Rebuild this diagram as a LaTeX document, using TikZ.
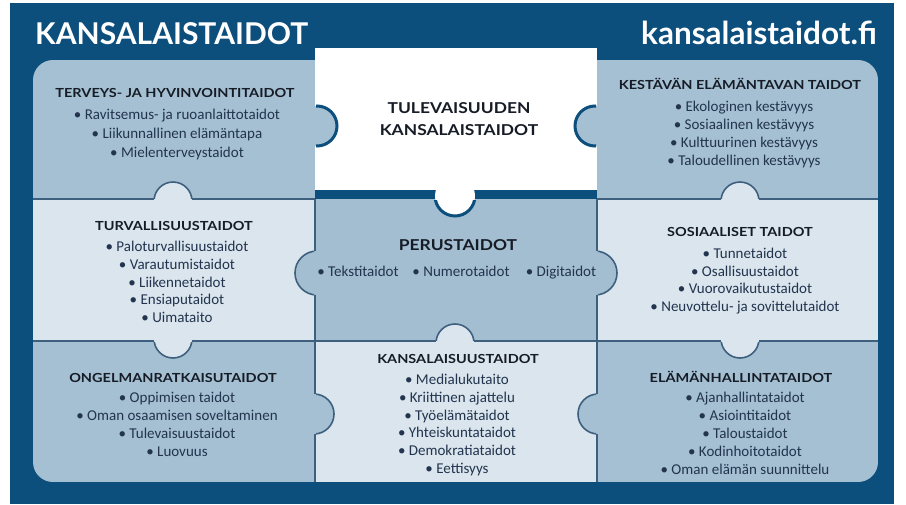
\documentclass[tikz,border=0pt]{standalone}
\usepackage{fontspec}
\setmainfont{Carlito}
\newfontfamily\headfont[FakeStretch=1.16]{Lato}
\newfontfamily\titlefont{Lato}
\definecolor{bg}{RGB}{12,78,124}
\definecolor{medcell}{RGB}{166,192,211}
\definecolor{lightcell}{RGB}{218,229,237}
\definecolor{midcell}{RGB}{164,190,209}
\definecolor{sepline}{RGB}{62,96,126}
\definecolor{headc}{RGB}{22,28,38}
\definecolor{itemc}{RGB}{34,52,78}
\newcommand\pzknob[5]{%
  \fill[#3] #1 circle[radius=#2];
  \begin{scope}\clip #5; \draw[#4] #1 circle[radius=#2]; \end{scope}}
\tikzset{
  item/.style={font=\fontsize{15}{16}\selectfont, text=itemc, inner sep=0pt, text height=7pt, text depth=0pt},
  cellhead/.style={font=\headfont\bfseries\fontsize{12.5}{14}\selectfont, text=headc, inner sep=0pt, text height=9pt, text depth=0pt},
  bighead/.style={cellhead, font=\headfont\bfseries\fontsize{15}{16}\selectfont, text height=11pt},
  knobdark/.style={draw=bg, line width=3pt},
  knobline/.style={draw=sepline, line width=1.6pt},
  sep/.style={draw=sepline, line width=1.6pt}
}
\begin{document}
\begin{tikzpicture}[x=1pt,y=-1pt]
\useasboundingbox (0,0) rectangle (906,504);
\fill[white] (0,0) rectangle (906,504);
\fill[bg] (10,3) rectangle (894,504);
% titles
\node[font=\titlefont\bfseries\fontsize{30}{31}\selectfont, text=white, anchor=base west, inner sep=0pt] (title) at (35,44) {KANSALAISTAIDOT};
\node[font=\titlefont\bfseries\fontsize{31.5}{32}\selectfont, text=white, anchor=base east, inner sep=0pt] (url) at (877,44) {kansalaistaidot.fi};
% cells
\begin{scope}
\clip[rounded corners=20pt] (33,60) rectangle (878,482);
\fill[medcell] (33,60) rectangle (315,199);
\fill[medcell] (597,60) rectangle (878,199);
\fill[lightcell] (33,199) rectangle (315,341);
\fill[midcell] (315,199) rectangle (597,341);
\fill[lightcell] (597,199) rectangle (878,341);
\fill[medcell] (33,341) rectangle (315,482);
\fill[lightcell] (315,341) rectangle (597,482);
\fill[medcell] (597,341) rectangle (878,482);
\draw[sep] (33,199) -- (315,199);
\draw[sep] (597,199) -- (878,199);
\draw[sep] (33,341) -- (878,341);
\draw[sep] (315,199) -- (315,482);
\draw[sep] (597,199) -- (597,482);
\end{scope}
% white piece
\fill[white] (315,48) rectangle (597,190);
\fill[bg] (315,190) rectangle (597,199);
% knobs
\pzknob{(317,126)}{20}{medcell}{knobdark}{(316,0) rectangle (906,504)}
\pzknob{(595,126)}{20}{medcell}{knobdark}{(0,0) rectangle (596,504)}
\pzknob{(455,196)}{20}{white}{knobdark}{(0,200) rectangle (906,504)}
\pzknob{(173,201)}{19}{lightcell}{knobline}{(0,0) rectangle (906,198)}
\pzknob{(740,201)}{19}{lightcell}{knobline}{(0,0) rectangle (906,198)}
\pzknob{(317,273)}{22}{midcell}{knobline}{(0,0) rectangle (314,504)}
\pzknob{(595,273)}{22}{midcell}{knobline}{(598,0) rectangle (906,504)}
\pzknob{(173,339)}{19}{lightcell}{knobline}{(0,342) rectangle (906,504)}
\pzknob{(740,339)}{19}{lightcell}{knobline}{(0,342) rectangle (906,504)}
\pzknob{(455,343)}{19}{lightcell}{knobline}{(0,0) rectangle (906,340)}
\pzknob{(314,414)}{20}{medcell}{knobline}{(316,0) rectangle (906,504)}
\pzknob{(598,414)}{20}{medcell}{knobline}{(0,0) rectangle (596,504)}
% headings
\node[cellhead] (h1) at (175,93) {TERVEYS- JA HYVINVOINTITAIDOT};
\node[cellhead] (h3) at (740,85) {KESTÄVÄN ELÄMÄNTAVAN TAIDOT};
\node[cellhead] (h4) at (174,226) {TURVALLISUUSTAIDOT};
\node[bighead] (h5) at (458,245) {PERUSTAIDOT};
\node[cellhead] (h6) at (740,232) {SOSIAALISET TAIDOT};
\node[cellhead] (h7) at (173,378) {ONGELMANRATKAISUTAIDOT};
\node[cellhead] (h8) at (458,359) {KANSALAISUUSTAIDOT};
\node[cellhead] (h9) at (741,378) {ELÄMÄNHALLINTATAIDOT};
\node[bighead] (h2a) at (459,108) {TULEVAISUUDEN};
\node[bighead] (h2b) at (459,130) {KANSALAISTAIDOT};
% items
\foreach \t [count=\i] in {Ravitsemus- ja ruoanlaittotaidot, Liikunnallinen elämäntapa, Mielenterveystaidot}
  \node[item] (a\i) at (177,{116+(\i-1)*19}) {• \t};
\foreach \t [count=\i] in {Ekologinen kestävyys, Sosiaalinen kestävyys, Kulttuurinen kestävyys, Taloudellinen kestävyys}
  \node[item] (b\i) at (744,{108+(\i-1)*18}) {• \t};
\foreach \t [count=\i] in {Paloturvallisuustaidot, Varautumistaidot, Liikennetaidot, Ensiaputaidot, Uimataito}
  \node[item] (c\i) at (177,{248+(\i-1)*17.8}) {• \t};
\node[item] (d1) at (358,273) {• Tekstitaidot};
\node[item] (d2) at (461,273) {• Numerotaidot};
\node[item] (d3) at (561,273) {• Digitaidot};
\foreach \t [count=\i] in {Tunnetaidot, Osallisuustaidot, Vuorovaikutustaidot, Neuvottelu- ja sovittelutaidot}
  \node[item] (e\i) at (745,{255+(\i-1)*17.7}) {• \t};
\foreach \t [count=\i] in {Oppimisen taidot, Oman osaamisen soveltaminen, Tulevaisuustaidot, Luovuus}
  \node[item] (f\i) at (177,{399+(\i-1)*18}) {• \t};
\foreach \t [count=\i] in {Medialukutaito, Kriittinen ajattelu, Työelämätaidot, Yhteiskuntataidot, Demokratiataidot, Eettisyys}
  \node[item] (g\i) at (457,{381+(\i-1)*17.8}) {• \t};
\foreach \t [count=\i] in {Ajanhallintataidot, Asiointitaidot, Taloustaidot, Kodinhoitotaidot, Oman elämän suunnittelu}
  \node[item] (k\i) at (745,{399+(\i-1)*18}) {• \t};
\end{tikzpicture}
\end{document}
